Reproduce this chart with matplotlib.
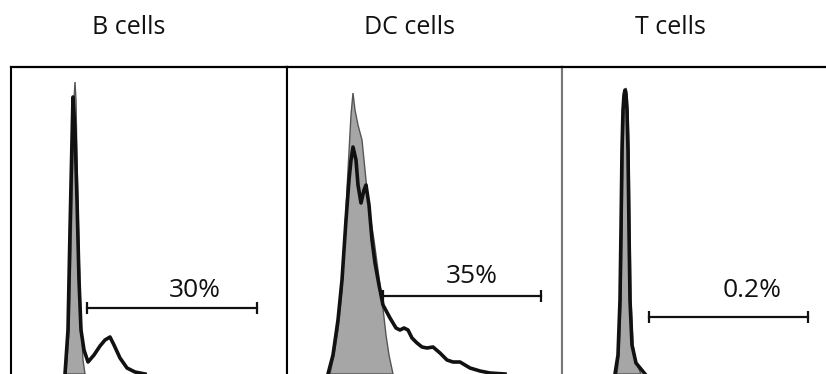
import matplotlib.pyplot as plt

plt.rcParams['font.family'] = ['Open Sans', 'DejaVu Sans']

# ---- histogram data (channel, event count), isotype = filled grey, stain = black line ----
titles = ['B cells', 'DC cells', 'T cells']
percents = ['30%', '35%', '0.2%']

b_iso_x = [55, 58, 60, 62, 63, 64, 65, 66, 68, 70, 72, 74]
b_iso_y = [0, 44, 124, 224, 274, 292, 274, 214, 124, 54, 14, 0]
b_stain_x = [54, 57, 59, 61, 62, 64, 66, 68, 70, 73, 77, 83, 89, 94, 99, 103, 109, 116, 124, 134]
b_stain_y = [0, 44, 144, 234, 277, 244, 174, 94, 44, 24, 12, 19, 28, 34, 37, 29, 16, 6, 2, 0]

dc_iso_x = [43, 47, 51, 55, 58, 61, 64, 66, 68, 71, 75, 79, 83, 87, 91, 95, 99, 102, 106]
dc_iso_y = [0, 19, 44, 84, 144, 204, 259, 281, 264, 249, 234, 194, 159, 134, 104, 74, 39, 19, 0]
dc_stain_x = [41, 46, 51, 55, 59, 62, 64, 66, 69, 71, 74, 77, 79, 82, 85, 88, 92, 96, 103, 109, 113,
              117, 121, 125, 130, 135, 140, 146, 153, 160, 166, 173, 178, 183, 193, 203, 218]
dc_stain_y = [0, 19, 54, 94, 154, 194, 214, 227, 214, 189, 171, 184, 189, 169, 134, 111, 89, 69, 56,
              46, 44, 46, 44, 36, 31, 27, 26, 27, 21, 14, 12, 12, 9, 6, 3, 1, 0]

t_iso_x = [55, 57, 59, 60, 61, 62, 63, 64, 65, 66, 67, 68, 69, 71, 74, 79]
t_iso_y = [0, 19, 74, 144, 224, 264, 282, 286, 282, 264, 224, 144, 74, 29, 12, 0]
t_stain_x = [53, 56, 58, 59, 60, 61, 62, 63, 64, 65, 66, 67, 68, 70, 74, 83]
t_stain_y = [0, 19, 74, 144, 224, 264, 279, 284, 279, 264, 224, 144, 74, 29, 11, 0]

# gate: start, end, height; label centre and baseline
gate_x0 = [76, 96, 87]
gate_x1 = [246, 254, 246]
gate_y = [66, 78, 57]
label_x = [184, 185, 190]
label_y = [77, 91, 77]

# ---- layout (pixels) ----
W, H = 826, 374
top = 67
edges = [11, 287, 562, 832]

fig = plt.figure(figsize=(W / 100, H / 100), dpi=100)

iso = [(b_iso_x, b_iso_y), (dc_iso_x, dc_iso_y), (t_iso_x, t_iso_y)]
stain = [(b_stain_x, b_stain_y), (dc_stain_x, dc_stain_y), (t_stain_x, t_stain_y)]
spine_cols = [('black', 'black'), ('black', '#777777'), ('#777777', '#777777')]

for i in range(3):
    x0, x1 = edges[i], edges[i + 1]
    ax = fig.add_axes([x0 / W, 0, (x1 - x0) / W, (H - top) / H])
    ax.set_xlim(0, x1 - x0)
    ax.set_ylim(0, H - top)
    ax.set_xticks([])
    ax.set_yticks([])
    ax.spines['bottom'].set_visible(False)
    ax.spines['top'].set_linewidth(1.6)
    ax.spines['left'].set_color(spine_cols[i][0])
    ax.spines['right'].set_color(spine_cols[i][1])
    ax.spines['left'].set_linewidth(1.5)
    ax.spines['right'].set_linewidth(1.5)

    ix, iy = iso[i]
    ax.fill(ix, iy, facecolor='#a6a6a6', edgecolor='#555555', linewidth=1, zorder=2)
    sx, sy = stain[i]
    ax.plot(sx, sy, color='#111111', linewidth=2.6, solid_joinstyle='round', zorder=3)

    # positive gate
    ax.plot([gate_x0[i], gate_x1[i]], [gate_y[i], gate_y[i]], color='#111111', linewidth=1.6,
            marker='|', markersize=9, markeredgewidth=1.6, zorder=4)
    ax.text(label_x[i], label_y[i], percents[i], ha='center',
            va='baseline', fontsize=19, color='#111111')

# panel titles
title_x = [129, 410, 670]
for t, x in zip(titles, title_x):
    fig.text(x / W, 1 - 34 / H, t, ha='center', va='baseline', fontsize=18, color='#111111')

fig.savefig('out.png', dpi=100)
